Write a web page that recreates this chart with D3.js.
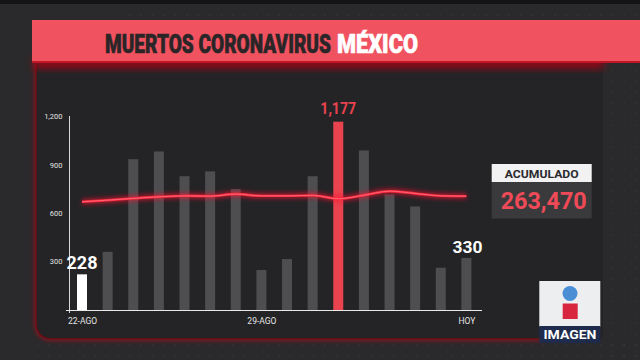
<!DOCTYPE html>
<html><head><meta charset="utf-8">
<script src="https://cdn.jsdelivr.net/npm/d3@7"></script>
<style>
html,body{margin:0;padding:0;background:#2a2a2c;}
svg{display:block;}
text{font-family:Roboto,"Open Sans",sans-serif;}
</style></head>
<body>
<svg id="c" width="640" height="360"></svg>
<script>
const dates = ["22-AGO","23-AGO","24-AGO","25-AGO","26-AGO","27-AGO","28-AGO","29-AGO","30-AGO","31-AGO","01-SEP","02-SEP","03-SEP","04-SEP","05-SEP","06-SEP"];
const deaths = [228,368,944,992,838,868,758,255,323,838,1177,998,725,650,269,330];
const avg7 = [679,689,700,710,716,714,727,716,716,719,698,720,745,731,716,714];
const yTicks = [300,600,900,1200];
const xTickLabels = {"22-AGO":"22-AGO","29-AGO":"29-AGO","06-SEP":"HOY"};
const titleDark = "MUERTOS CORONAVIRUS";
const titleLight = "MÉXICO";
const totalLabel = "ACUMULADO";
const totalValue = 263470;
const logoText = "IMAGEN";

const svg = d3.select("#c");
const defs = svg.append("defs");
const blur = (id, s) => { const f = defs.append("filter").attr("id", id).attr("x","-50%").attr("y","-50%").attr("width","200%").attr("height","200%"); f.append("feGaussianBlur").attr("stdDeviation", s); };
blur("b2", 2); blur("b4", 4);

// text placed at (x,y) and horizontally scaled to a target width
function fitText(parent, str, x, y, w, anchor, attrs) {
  const t = parent.append("text").text(str);
  Object.entries(attrs).forEach(([k,v]) => t.attr(k, v));
  const nat = t.node().getComputedTextLength();
  const k = w / nat;
  const x0 = anchor === "middle" ? x - w/2 : x;
  t.attr("transform", `translate(${x0},${y}) scale(${k},1)`);
  return t;
}

// background
svg.append("rect").attr("width",640).attr("height",360).attr("fill","#2a2a2c");
svg.append("rect").attr("width",640).attr("height",4).attr("fill","#141414");

// dotted pattern
const pat = defs.append("pattern").attr("id","dots").attr("width",11.5).attr("height",11).attr("patternUnits","userSpaceOnUse");
pat.append("circle").attr("cx",3).attr("cy",4).attr("r",0.6).attr("fill","#434347");
svg.append("rect").attr("x",604).attr("y",66).attr("width",36).attr("height",294).attr("fill","url(#dots)");
svg.append("rect").attr("x",120).attr("y",5).attr("width",520).attr("height",14).attr("fill","url(#dots)");
svg.append("rect").attr("x",35).attr("y",344).attr("width",605).attr("height",16).attr("fill","url(#dots)");

// panel with red glow border
svg.append("path").attr("d","M36,63 L36,322 Q36,339 53,339 L545,339").attr("fill","none").attr("stroke","#c0101e").attr("stroke-width",4).attr("filter","url(#b2)").attr("opacity",0.6);
svg.append("path").attr("d","M36,63 L36,322 Q36,339 53,339 L603,339 L603,63 Z").attr("fill","#242426");
svg.append("path").attr("d","M36,63 L36,322 Q36,339 53,339 L545,339").attr("fill","none").attr("stroke","#6e0c16").attr("stroke-width",1.5);

// header
svg.append("rect").attr("x",34).attr("y",58).attr("width",570).attr("height",10).attr("fill","#b00012").attr("filter","url(#b4)").attr("opacity",0.9);
svg.append("rect").attr("x",32).attr("y",20).attr("width",608).attr("height",43).attr("fill","#f0525f");
svg.append("rect").attr("x",32).attr("y",61).attr("width",608).attr("height",2).attr("fill","#c01626");
fitText(svg, titleDark, 105, 53.3, 226, "start", {"font-size":25, "font-weight":900, "fill":"#2a2628", "stroke":"#2a2628", "stroke-width":0.6});
fitText(svg, titleLight, 337, 53.3, 81, "start", {"font-size":25, "font-weight":900, "fill":"#ffffff", "stroke":"#ffffff", "stroke-width":0.6});

// scales
const x = d3.scalePoint().domain(dates).range([82, 466.4]);
const y = d3.scaleLinear().domain([0,1200]).range([311,118]);
const bw = 10;
const maxIdx = deaths.indexOf(d3.max(deaths));
const last = deaths.length - 1;
const barColor = (d,i) => i === 0 ? "#ffffff" : (i === maxIdx ? "#e8434f" : "#4e4e50");

// bars
svg.append("g").selectAll("rect").data(deaths).join("rect")
  .attr("x",(d,i)=>x(dates[i]) - bw/2).attr("width",bw)
  .attr("y",d=>y(d)).attr("height",d=>y(0)-y(d)).attr("fill",barColor);

// y axis
const yAxis = svg.append("g").attr("transform","translate(69.5,0)")
  .call(d3.axisLeft(y).tickValues(yTicks).tickSize(0).tickPadding(7).tickFormat(d3.format(",")));
yAxis.select(".domain").attr("d","M0,116V313").attr("stroke","#d8d8d8").attr("stroke-width",1);
yAxis.selectAll("text").attr("font-size",7.5).attr("fill","#e4e4e4").attr("font-family","Roboto,sans-serif").attr("dy","0.1em");

// x axis
const xAxis = svg.append("g").attr("transform","translate(0,310.5)")
  .call(d3.axisBottom(x).tickValues(Object.keys(xTickLabels)).tickSize(0).tickPadding(7).tickFormat(d=>xTickLabels[d]));
xAxis.select(".domain").attr("d","M66,0H482").attr("stroke","#e8e8e8").attr("stroke-width",1);
xAxis.selectAll("text").attr("font-size",8.5).attr("fill","#e4e4e4").attr("font-family","Roboto,sans-serif");

// average line with glow
const line = d3.line().x((d,i)=>x(dates[i])).y(d=>y(d)).curve(d3.curveMonotoneX);
svg.append("path").datum(avg7).attr("d",line).attr("fill","none").attr("stroke","#ff1030").attr("stroke-width",6).attr("opacity",0.55).attr("filter","url(#b2)");
svg.append("path").datum(avg7).attr("d",line).attr("fill","none").attr("stroke","#ff2a40").attr("stroke-width",2.4);
svg.append("path").datum(avg7).attr("d",line).attr("fill","none").attr("stroke","#ff6a78").attr("stroke-width",0.9);

// value labels
const fmt = d3.format(",");
const labels = [
  {i:0, color:"#ffffff", size:17.5, w:31, dy:5.5},
  {i:maxIdx, color:"#e8434f", size:17, w:36, dy:8},
  {i:last, color:"#ffffff", size:17, w:30, dy:5}
];
labels.forEach(d => {
  fitText(svg, fmt(deaths[d.i]), x(dates[d.i]) + (d.i===last?1:0), y(deaths[d.i]) - d.dy, d.w, "middle",
    {"font-size":d.size, "font-weight":700, "fill":d.color});
});

// total box
svg.append("rect").attr("x",491.7).attr("y",164).attr("width",100).attr("height",18).attr("fill","#f2f2f2");
svg.append("rect").attr("x",491.7).attr("y",182).attr("width",100).attr("height",36.5).attr("fill","#3a3a3c");
fitText(svg, totalLabel, 541.7, 177.5, 74, "middle", {"font-size":11, "font-weight":700, "fill":"#2a2a2e"});
fitText(svg, fmt(totalValue), 500.7, 208.5, 86, "start", {"font-size":23, "font-weight":700, "fill":"#f04a58"});

// logo
svg.append("rect").attr("x",539.3).attr("y",281).attr("width",61).attr("height",46).attr("fill","#eceef0");
svg.append("rect").attr("x",539.3).attr("y",326).attr("width",61).attr("height",17).attr("fill","#1e2b4c");
svg.append("circle").attr("cx",570).attr("cy",293.5).attr("r",7.5).attr("fill","#4a8fd6");
svg.append("rect").attr("x",562.7).attr("y",303.5).attr("width",15).attr("height",15.5).attr("fill","#d9263f");
fitText(svg, logoText, 570, 339.2, 53, "middle", {"font-size":12.5, "font-weight":700, "fill":"#ffffff"});
</script>
</body></html>
